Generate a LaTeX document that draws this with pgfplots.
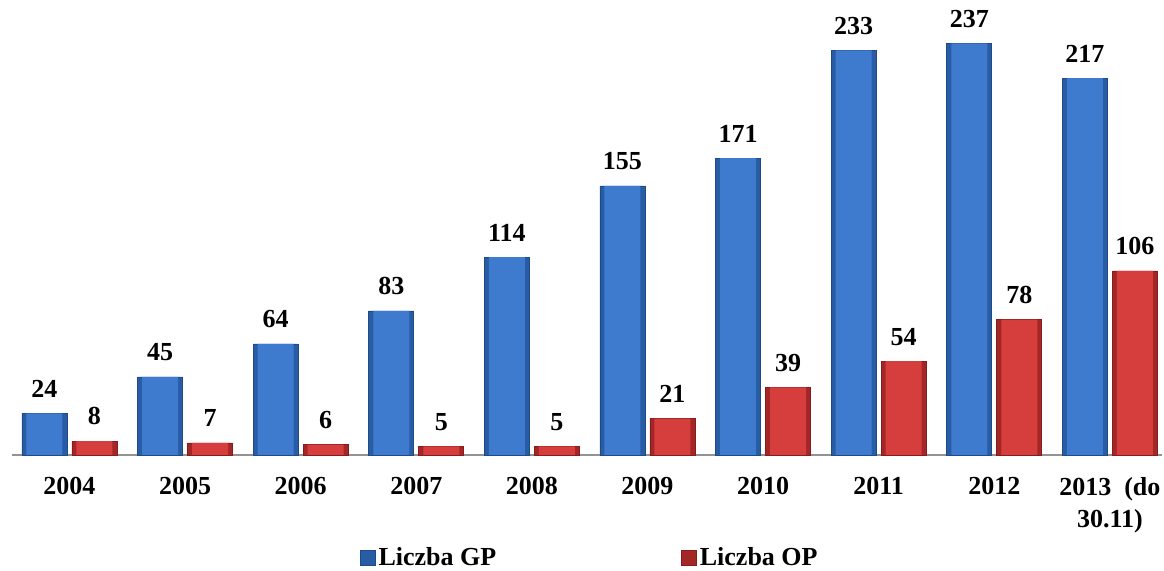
\documentclass[border=0pt]{standalone}
\usepackage{fontspec}
\setmainfont{Liberation Serif}
\usepackage{pgfplots}
\pgfplotsset{compat=1.18}
\definecolor{bMain}{RGB}{62,123,207}
\definecolor{bDark}{RGB}{40,92,165}
\definecolor{rMain}{RGB}{214,62,62}
\definecolor{rDark}{RGB}{165,38,38}
\pgfplotstableread{
x gp op
0 24 8
1 45 7
2 64 6
3 83 5
4 114 5
5 155 21
6 171 39
7 233 54
8 237 78
9 217 106
}\data
\begin{document}
\begin{tikzpicture}
\useasboundingbox (0,0) rectangle (582pt,285.5pt);
\begin{axis}[
  at={(5.85pt,58pt)}, anchor=south west,
  scale only axis,
  width=575.1pt, height=227.5pt,
  xmin=-0.5, xmax=9.45, ymin=0, ymax=262,
  axis y line=none,
  axis x line=bottom,
  x axis line style={-, draw=gray!85, line width=1pt},
  xtick=data,
  xticklabels={2004,2005,2006,2007,2008,2009,2010,2011,2012,{2013~~(do\\30.11)}},
  major tick length=0pt,
  xticklabel style={font=\fontsize{13}{16}\selectfont\bfseries, align=center, anchor=north, inner sep=0pt, yshift=-11pt},
  /pgf/number format/assume math mode=true,
  ybar, bar width=22.5pt,
  nodes near coords style={font=\fontsize{13}{16}\selectfont\bfseries, anchor=south, inner sep=0pt, yshift=7.8pt, text=black},
  clip=false,
  legend columns=2,
  legend style={draw=none, fill=none, inner sep=0pt, at={(0.503,-0.226)}, anchor=center,
    font=\fontsize{13}{16}\selectfont\bfseries,
    /tikz/every even column/.append style={column sep=91pt},
    nodes={inner sep=1.5pt}},
  legend image code/.code={\path[#1] (0pt,-3.75pt) rectangle (7.5pt,3.75pt);},
]
\addplot[bar shift=-12.5pt, fill=bDark, draw=bDark!80!black, line width=0.3pt, nodes near coords] table[x=x,y=gp] {\data};
\addlegendentry{Liczba GP}
\addplot[bar shift=12.5pt, fill=rDark, draw=rDark!80!black, line width=0.3pt, nodes near coords] table[x=x,y=op] {\data};
\addlegendentry{Liczba OP}
\addplot[forget plot, bar shift=-12.5pt, bar width=18pt, fill=bMain, draw=none] table[x=x,y=gp] {\data};
\addplot[forget plot, bar shift=12.5pt, bar width=18pt, fill=rMain, draw=none] table[x=x,y=op] {\data};
\end{axis}
\end{tikzpicture}
\end{document}
